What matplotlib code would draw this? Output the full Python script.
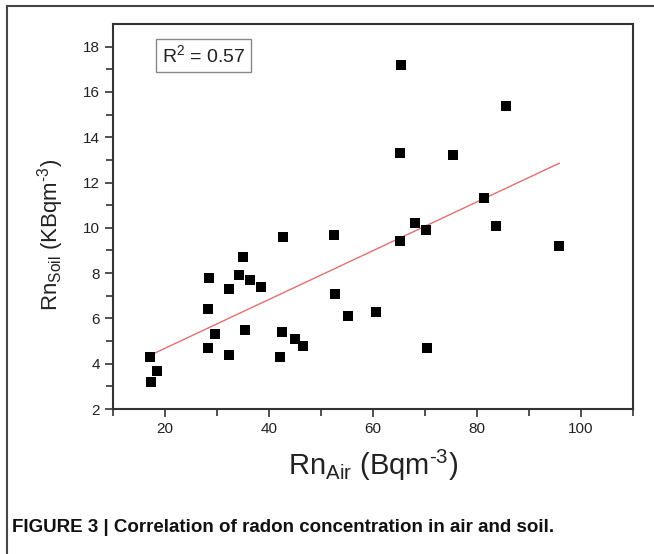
import numpy as np
import matplotlib
matplotlib.use('Agg')
import matplotlib.pyplot as plt
from matplotlib.lines import Line2D

plt.rcParams['font.family'] = ['Liberation Sans', 'DejaVu Sans']
plt.rcParams['mathtext.fontset'] = 'custom'
plt.rcParams['mathtext.rm'] = 'Liberation Sans'
plt.rcParams['mathtext.it'] = 'Liberation Sans'

# Radon in air (Bq/m3) and soil (kBq/m3)
rn_air = [17.1, 17.4, 18.4, 28.2, 28.3, 28.5, 29.6, 32.3, 32.3, 34.2, 35.0,
          35.4, 36.4, 38.4, 42.1, 42.4, 42.7, 44.9, 46.5, 52.4, 52.7, 55.2,
          60.5, 65.1, 65.4, 65.1, 68.1, 70.1, 70.3, 75.3, 81.4, 83.6, 85.5, 95.8]
rn_soil = [4.3, 3.2, 3.7, 6.4, 4.7, 7.8, 5.3, 7.3, 4.4, 7.9, 8.7,
           5.5, 7.7, 7.4, 4.3, 5.4, 9.6, 5.1, 4.8, 9.7, 7.1, 6.1,
           6.3, 13.3, 17.2, 9.4, 10.2, 9.9, 4.7, 13.2, 11.3, 10.1, 15.4, 9.2]
r2_text = 'R$^2$ = 0.57'

fig = plt.figure(figsize=(6.54, 5.54), dpi=100)
ax = fig.add_axes([0.1728, 0.2617, 0.7952, 0.695])

ax.scatter(rn_air, rn_soil, marker='s', s=48, color='black', zorder=3, linewidths=0)

# linear fit
k, b = np.polyfit(rn_air, rn_soil, 1)
xs = np.array([min(rn_air), max(rn_air)])
ax.plot(xs, k * xs + b, color='#e07070', lw=1, zorder=2)

ax.set_xlim(10, 110)
ax.set_ylim(2, 19)
ax.set_xticks([20, 40, 60, 80, 100])
ax.set_xticks(np.arange(10, 111, 10), minor=True)
ax.set_yticks(np.arange(2, 19, 2))
ax.set_yticks(np.arange(3, 19, 2), minor=True)
ax.tick_params(which='both', direction='out', color='#333333', width=1.2,
               labelsize=11, labelcolor='#222222')
ax.tick_params(which='major', length=6)
ax.tick_params(which='minor', length=5)
for s in ax.spines.values():
    s.set_color('#333333')
    s.set_linewidth(1.5)

ax.set_xlabel('Rn$_{\\mathrm{Air}}$ (Bqm$^{\\text{-}3}$)', fontsize=21, labelpad=8, color='#222222')
ax.set_ylabel('Rn$_{\\mathrm{Soil}}$ (KBqm$^{\\text{-}3}$)', fontsize=16, labelpad=12, color='#222222')
ax.yaxis.label.set_y(0.452)

ax.text(0.0945, 0.918, r2_text, transform=ax.transAxes, fontsize=14, color='#222222',
        va='center', ha='left',
        bbox=dict(boxstyle='square,pad=0.3', facecolor='white', edgecolor='#888888', lw=1))

# outer frame (left and top only)
fig.add_artist(Line2D([7/654, 7/654], [0, 1 - 6/554], transform=fig.transFigure,
                      color='#444444', lw=1.5))
fig.add_artist(Line2D([7/654, 1], [1 - 6/554, 1 - 6/554], transform=fig.transFigure,
                      color='#444444', lw=1.5))

fig.text(12/654, 1 - 528/554, 'FIGURE 3 | Correlation of radon concentration in air and soil.',
         fontsize=13.5, fontweight='bold', va='center', ha='left', color='#111111')

fig.savefig('out.png', dpi=100)
